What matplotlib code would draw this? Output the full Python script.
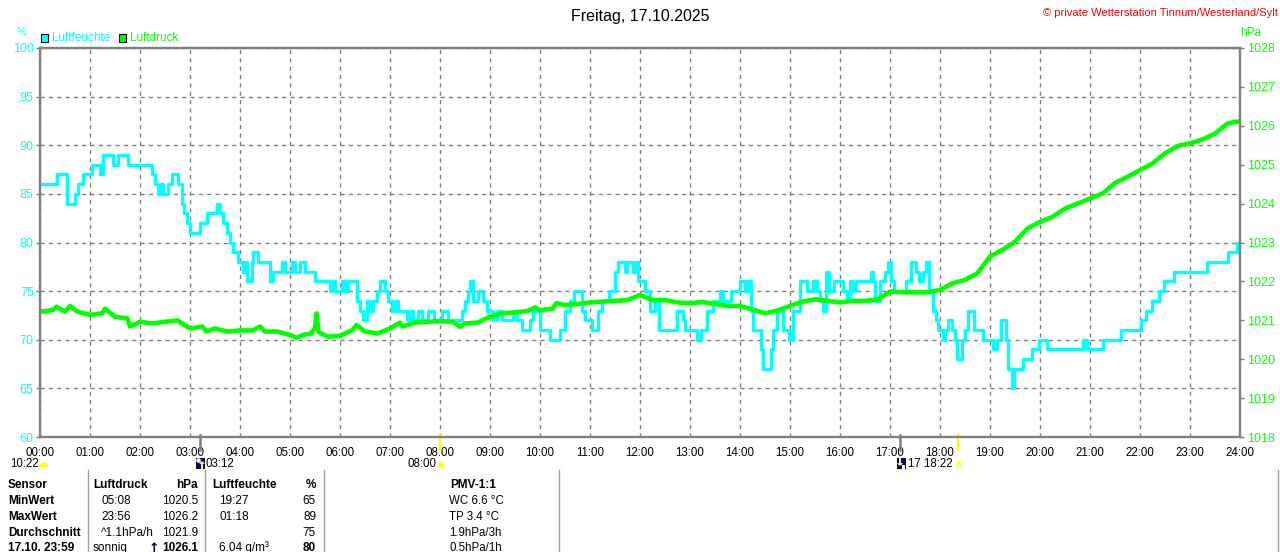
import matplotlib
matplotlib.use("Agg")
import matplotlib.pyplot as plt
from matplotlib.patches import Rectangle, Wedge, Circle
from matplotlib.transforms import Affine2D

W, H = 1280, 552

# Luftfeuchte in %, as steps: hour of day where the value changes
hum_h = [0.00, 0.333, 0.533, 0.70, 0.767, 0.867, 1.033, 1.20, 1.267, 1.467, 1.567, 1.767,
         2.233, 2.30, 2.367, 2.42, 2.46, 2.567, 2.633, 2.767, 2.833, 2.88, 2.933, 3.0,
         3.2, 3.333, 3.533, 3.60, 3.667, 3.733, 3.80, 3.867, 3.967, 4.067, 4.10, 4.133,
         4.233, 4.267, 4.367, 4.60, 4.667, 4.833, 4.90, 5.033, 5.10, 5.20, 5.30, 5.50,
         5.80, 5.853, 5.90, 6.033, 6.10, 6.167, 6.333, 6.40, 6.467, 6.533, 6.60, 6.667,
         6.733, 6.80, 6.90, 6.967, 7.033, 7.10, 7.167, 7.333, 7.40, 7.467, 7.567, 7.633,
         7.767, 7.87, 8.033, 8.167, 8.433, 8.50, 8.567, 8.60, 8.667, 8.767, 8.853, 8.947,
         9.067, 9.133, 9.233, 9.467, 9.547, 9.633, 9.80, 9.867, 10.0, 10.2, 10.4, 10.5,
         10.6, 10.68, 10.833, 10.90, 11.033, 11.167, 11.233, 11.387, 11.50, 11.567, 11.70,
         11.73, 11.867, 11.90, 11.967, 12.10, 12.20, 12.30, 12.387, 12.733, 12.853, 12.90,
         13.133, 13.213, 13.347, 13.453, 13.60, 13.667, 13.813, 14.0, 14.10, 14.167,
         14.213, 14.267, 14.413, 14.467, 14.613, 14.667, 14.747, 14.853, 14.987, 15.053,
         15.20, 15.333, 15.467, 15.533, 15.60, 15.65, 15.72, 15.787, 15.88, 16.053,
         16.147, 16.20, 16.253, 16.32, 16.613, 16.667, 16.70, 16.80, 16.90, 16.953,
         17.013, 17.08, 17.32, 17.413, 17.52, 17.587, 17.667, 17.72, 17.787, 17.853,
         17.92, 17.967, 18.053, 18.10, 18.167, 18.233, 18.30, 18.333, 18.433, 18.50,
         18.567, 18.68, 18.853, 19.053, 19.147, 19.213, 19.32, 19.367, 19.433, 19.48,
         19.667, 19.833, 19.987, 20.133, 20.867, 20.933, 21.253, 21.613, 22.013, 22.12,
         22.233, 22.387, 22.48, 22.68, 23.347, 23.767, 23.947, 24.0]
hum_v = [86, 87, 84, 85, 86, 87, 88, 87, 89, 88, 89, 88,
         87, 86, 85, 86, 85, 86, 87, 86, 84, 83, 82, 81,
         82, 83, 84, 83, 82, 81, 80, 79, 78, 77, 78, 76,
         78, 79, 78, 76, 77, 78, 77, 78, 77, 78, 77, 76,
         75, 76, 75, 76, 75, 76, 74, 73, 72, 74, 73, 74,
         75, 76, 75, 74, 73, 74, 73, 72, 73, 72, 73, 72,
         73, 72, 73, 72, 73, 74, 75, 76, 74, 75, 74, 73,
         72, 73, 72, 73, 72, 71, 72, 73, 71, 70, 71, 73,
         74, 75, 73, 72, 71, 73, 74, 75, 77, 78, 77,
         78, 77, 78, 76, 75, 73, 74, 71, 73, 72, 71,
         70, 71, 73, 74, 75, 74, 75, 76, 75, 76,
         73, 71, 69, 67, 69, 71, 73, 71, 70, 73,
         76, 75, 76, 75, 74, 73, 77, 75, 76, 75,
         74, 76, 75, 76, 77, 76, 74, 76, 77, 78,
         76, 75, 76, 78, 77, 76, 77, 78, 75, 73,
         72, 71, 70, 71, 72, 71, 70, 68, 70, 71,
         73, 71, 70, 69, 70, 72, 70, 67, 65, 67,
         68, 69, 70, 69, 70, 69, 70, 71, 72, 73,
         74, 75, 76, 77, 78, 79, 80, 80]

# Luftdruck in hPa
pres_h = [0.0, 0.25, 0.33, 0.5, 0.6, 0.75, 1.0, 1.25, 1.3, 1.5, 1.75, 1.8, 2.0, 2.25, 2.5,
          2.75, 3.0, 3.25, 3.33, 3.5, 3.75, 4.0, 4.25, 4.4, 4.5, 4.75, 5.0, 5.13, 5.25,
          5.42, 5.5, 5.53, 5.57, 5.75, 6.0, 6.25, 6.33, 6.5, 6.75, 7.0, 7.2, 7.25, 7.5,
          7.75, 8.0, 8.25, 8.4, 8.5, 8.75, 9.0, 9.25, 9.5, 9.75, 9.9, 10.0, 10.25, 10.33,
          10.5, 10.75, 11.0, 11.25, 11.5, 11.75, 12.0, 12.25, 12.5, 12.75, 13.0, 13.25,
          13.5, 13.75, 14.0, 14.25, 14.5, 14.75, 15.0, 15.25, 15.5, 15.75, 16.0, 16.25,
          16.5, 16.75, 17.0, 17.25, 17.5, 17.75, 18.0, 18.25, 18.5, 18.75, 19.0, 19.25,
          19.5, 19.75, 20.0, 20.25, 20.5, 20.75, 21.0, 21.25, 21.5, 21.75, 22.0, 22.25,
          22.5, 22.75, 23.0, 23.25, 23.5, 23.75, 24.0]
pres_v = [1021.22, 1021.26, 1021.35, 1021.22, 1021.37, 1021.22, 1021.14, 1021.18, 1021.30,
          1021.09, 1021.05, 1020.84, 1020.96, 1020.92, 1020.96, 1021.00, 1020.79, 1020.84,
          1020.71, 1020.79, 1020.71, 1020.74, 1020.74, 1020.84, 1020.71, 1020.71, 1020.62,
          1020.55, 1020.62, 1020.66, 1020.79, 1021.18, 1020.70, 1020.58, 1020.60, 1020.75,
          1020.88, 1020.71, 1020.66, 1020.79, 1020.94, 1020.84, 1020.94, 1020.96, 1020.98,
          1020.96, 1020.83, 1020.92, 1020.94, 1021.09, 1021.18, 1021.20, 1021.24, 1021.33,
          1021.26, 1021.30, 1021.44, 1021.39, 1021.42, 1021.46, 1021.48, 1021.50, 1021.52,
          1021.65, 1021.52, 1021.52, 1021.46, 1021.44, 1021.47, 1021.42, 1021.37, 1021.37,
          1021.28, 1021.18, 1021.25, 1021.37, 1021.48, 1021.54, 1021.50, 1021.46, 1021.50,
          1021.50, 1021.53, 1021.74, 1021.72, 1021.72, 1021.72, 1021.78, 1021.95, 1022.04,
          1022.21, 1022.64, 1022.81, 1023.02, 1023.36, 1023.53, 1023.66, 1023.87, 1024.00,
          1024.13, 1024.26, 1024.53, 1024.69, 1024.86, 1025.03, 1025.29, 1025.48, 1025.55,
          1025.65, 1025.80, 1026.06, 1026.12]

hours = list(range(25))
hour_labels = ["%02d:00" % h for h in hours]
hum_ticks = list(range(60, 101, 5))
pres_ticks = list(range(1018, 1029))

sun_times = [8.0, 18 + 22 / 60]
moon_times = [3.2, 17.2]

title = "Freitag, 17.10.2025"
credit = "\u00a9 private Wetterstation Tinnum/Westerland/Sylt"

table_rows = ["Sensor", "MinWert", "MaxWert", "Durchschnitt", "17.10. 23:59"]
pres_col_a = ["Luftdruck", "05:08", "23:56", "^1.1hPa/h", "sonnig"]
pres_col_b = ["hPa", "1020.5", "1026.2", "1021.9", "1026.1"]
hum_col_a = ["Luftfeuchte", "19:27", "01:18", "", "6.04 g/m\u00b3"]
hum_col_b = ["%", "65", "89", "75", "80"]
pmv_col = ["PMV-1:1", "WC 6.6 \u00b0C", "TP 3.4 \u00b0C", "1.9hPa/3h", "0.5hPa/1h"]

CYAN = "#00ffff"
GREEN = "#00ff00"
GRAY = "#808080"
YELLOW = "#ffff00"
FONT = ["Liberation Sans", "DejaVu Sans"]
plt.rcParams["font.family"] = FONT

fig = plt.figure(figsize=(W / 100, H / 100), dpi=100)
# pixel coordinates, origin top-left
PX = Affine2D().scale(1, -1).translate(0, H)


def ptext(x, y, s, **kw):
    kw.setdefault("fontsize", 8.5)
    kw.setdefault("va", "center")
    fig.text(x, y, s, transform=PX, **kw)


def pbox(patch):
    patch.set_transform(PX)
    fig.patches.append(patch)


ax = fig.add_axes([40 / W, 1 - 437 / H, (1240 - 40) / W, (437 - 48) / H])
ax2 = ax.twinx()

ax.plot(hum_h, hum_v, color=CYAN, lw=2.4, drawstyle="steps-post")
ax2.plot(pres_h, pres_v, color=GREEN, lw=3.3)

ax.set_xlim(0, 24)
ax.set_ylim(60, 100)
ax2.set_ylim(1018, 1028)

ax.set_xticks(hours)
ax.set_xticklabels(hour_labels, fontsize=8.3)
ax.set_yticks(hum_ticks)
ax.set_yticklabels([str(v) for v in hum_ticks], fontsize=9, color=CYAN)
ax2.set_yticks(pres_ticks)
ax2.set_yticklabels([str(v) for v in pres_ticks], fontsize=9, color=GREEN)

ax.tick_params(axis="x", length=0, pad=7.5)
ax.tick_params(axis="y", length=3, width=1, color=GRAY, pad=1.5)
ax2.tick_params(axis="y", length=3, width=1, color=GRAY, pad=2)

ax.grid(True, color=GRAY, lw=1, ls=(0, (3, 3)))
for a in (ax, ax2):
    for sp in a.spines.values():
        sp.set_color(GRAY)
        sp.set_linewidth(1.6)

# sun and moon marks under the time axis
tr = ax.get_xaxis_transform()
for t in moon_times:
    ax.plot([t, t], [0.005, -0.033], color=GRAY, lw=1.8, transform=tr, clip_on=False)
for t in sun_times:
    ax.plot([t, t], [0.005, -0.033], color=YELLOW, lw=1.6, transform=tr, clip_on=False)

# header
ptext(640, 16, title, ha="center", fontsize=11.5)
ptext(1278, 13, credit, ha="right", fontsize=8, color="#ff0000")
ptext(22, 32, "%", ha="center", color=CYAN, fontsize=8)
ptext(1251, 33, "hPa", ha="center", color=GREEN, fontsize=8.5)
for x0, lab, col in [(41, "Luftfeuchte", CYAN), (119, "Luftdruck", GREEN)]:
    pbox(Rectangle((x0, 34), 7, 8, facecolor=col, edgecolor="black", lw=0.8))
    ptext(x0 + 11, 38, lab, ha="left", color=col, fontsize=8.5)

# sun / moon times row
ry = 464
ptext(10, ry, "10:22", ha="left", fontsize=8.3)
pbox(Wedge((44, 467), 4.5, 180, 360, facecolor=YELLOW, edgecolor="none"))
pbox(Rectangle((196, 458), 9, 11, facecolor="#000080", edgecolor="none"))
pbox(Circle((198.5, 460.5), 2.3, facecolor="white", edgecolor="none"))
pbox(Rectangle((201.3, 463), 1.4, 6, facecolor=YELLOW, edgecolor="none"))
pbox(Wedge((202, 464), 2.5, 180, 360, facecolor=YELLOW, edgecolor="none"))
ptext(206, ry, "03:12", ha="left", fontsize=8.3)
ptext(436, ry, "08:00", ha="right", fontsize=8.3)
pbox(Circle((441, 465), 3, facecolor=YELLOW, edgecolor="#ffff90", lw=1.5))
pbox(Rectangle((897, 458), 9, 11, facecolor="#000080", edgecolor="none"))
pbox(Rectangle((899.3, 458), 1.4, 6, facecolor=YELLOW, edgecolor="none"))
pbox(Wedge((900, 463), 2.5, 0, 180, facecolor=YELLOW, edgecolor="none"))
pbox(Rectangle((902, 465), 3, 4, facecolor="white", edgecolor="none"))
ptext(908, ry, "17 18:22", ha="left", fontsize=8.3)
pbox(Rectangle((956, 462), 5, 5, facecolor="none", edgecolor=YELLOW, lw=1))

# info table
for xl in [88, 205, 324, 559, 1278]:
    fig.lines.append(plt.Line2D([xl, xl], [470, 552], transform=PX, color="#a0a0a0", lw=1))
rows_y = [485, 501, 517, 533, 548]
for i, y in enumerate(rows_y):
    head = i == 0
    ptext(8, y, table_rows[i], ha="left", weight="bold", fontsize=8.5)
    ptext(93 if i in (0, 4) else 101, y, pres_col_a[i], ha="left",
          weight="bold" if head else "normal")
    ptext(198, y, pres_col_b[i], ha="right", weight="bold" if i in (0, 4) else "normal")
    ptext(212 if i == 0 else 219, y, hum_col_a[i], ha="left",
          weight="bold" if head else "normal")
    ptext(316, y, hum_col_b[i], ha="right", weight="bold" if i in (0, 4) else "normal")
    if head:
        ptext(473, y, pmv_col[i], ha="center", weight="bold", fontsize=8.5)
    else:
        ptext(449, y, pmv_col[i], ha="left", fontsize=8.3)
ptext(154, rows_y[4], "\u2191", ha="center", family=["DejaVu Sans"], weight="bold",
      fontsize=9, color="#000050")

fig.savefig("out.png", dpi=100)
